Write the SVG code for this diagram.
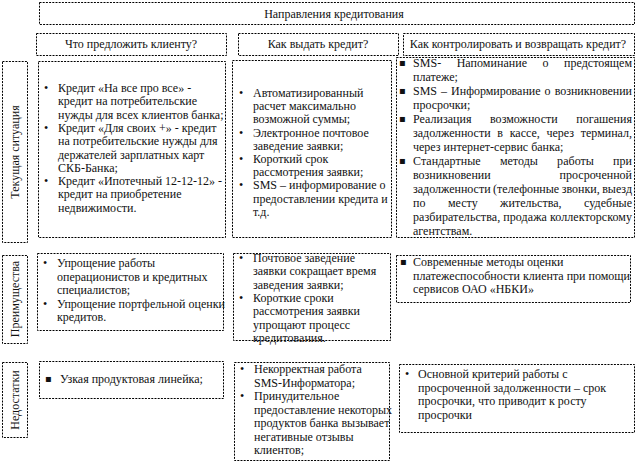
<svg xmlns="http://www.w3.org/2000/svg" width="638" height="470" viewBox="0 0 638 470">
<style>
.box{fill:#fff;stroke:#000;stroke-width:1;stroke-dasharray:2 1.2}
.t{font-family:"Liberation Serif","Times New Roman",serif;font-size:12px;fill:#111}
.m{text-anchor:middle}
.sq{font-family:"DejaVu Sans",sans-serif;font-size:10px;fill:#111}
</style>
<rect width="638" height="470" fill="#fff"/>
<g id="title">
<rect class="box" x="39.5" y="2.5" width="595" height="22"/>
<text class="t m" x="334" y="17.5">Направления кредитования</text>
</g>
<g id="head-offer">
<rect class="box" x="36.5" y="33.5" width="190" height="22"/>
<text class="t m" x="131" y="48">Что предложить клиенту?</text>
</g>
<g id="head-issue">
<rect class="box" x="238.5" y="33.5" width="160" height="22"/>
<text class="t m" x="318" y="48">Как выдать кредит?</text>
</g>
<g id="head-control">
<rect class="box" x="403.5" y="33.5" width="231" height="22"/>
<text class="t m" x="518" y="48">Как контролировать и возвращать кредит?</text>
</g>

<g id="label-current">
<rect class="box" x="2.5" y="61.5" width="25" height="181"/>
<text class="t m" transform="translate(15,152) rotate(-90)" x="0" y="4">Текущая ситуация</text>
</g>
<g id="label-advantages">
<rect class="box" x="2.5" y="255.5" width="25" height="88"/>
<text class="t m" transform="translate(15,299) rotate(-90)" x="0" y="4">Преимущества</text>
</g>
<g id="label-drawbacks">
<rect class="box" x="2.5" y="362.5" width="25" height="75"/>
<text class="t m" transform="translate(15,400) rotate(-90)" x="0" y="4">Недостатки</text>
</g>

<g id="current-offer">
<rect class="box" x="38.5" y="61.5" width="187" height="176"/>
<text class="t" x="44" y="92">•</text>
<text class="t" x="58" y="92">Кредит «На все про все» -</text>
<text class="t" x="58" y="105.3">кредит на потребительские</text>
<text class="t" x="58" y="118.6">нужды для всех клиентов банка;</text>
<text class="t" x="44" y="131.9">•</text>
<text class="t" x="58" y="131.9">Кредит «Для своих +» - кредит</text>
<text class="t" x="58" y="145.2">на потребительские нужды для</text>
<text class="t" x="58" y="158.5">держателей зарплатных карт</text>
<text class="t" x="58" y="171.8">СКБ-Банка;</text>
<text class="t" x="44" y="185.1">•</text>
<text class="t" x="58" y="185.1">Кредит «Ипотечный 12-12-12» -</text>
<text class="t" x="58" y="198.4">кредит на приобретение</text>
<text class="t" x="58" y="211.7">недвижимости.</text>
</g>

<g id="current-issue">
<rect class="box" x="232.5" y="60.5" width="159" height="177"/>
<text class="t" x="239" y="97">•</text>
<text class="t" x="253" y="97">Автоматизированный</text>
<text class="t" x="253" y="110.2">расчет максимально</text>
<text class="t" x="253" y="123.4">возможной суммы;</text>
<text class="t" x="239" y="136.6">•</text>
<text class="t" x="253" y="136.6">Электронное почтовое</text>
<text class="t" x="253" y="149.8">заведение заявки;</text>
<text class="t" x="239" y="163">•</text>
<text class="t" x="253" y="163">Короткий срок</text>
<text class="t" x="253" y="176.2">рассмотрения заявки;</text>
<text class="t" x="239" y="189.4">•</text>
<text class="t" x="253" y="189.4">SMS – информирование о</text>
<text class="t" x="253" y="202.6">предоставлении кредита и</text>
<text class="t" x="253" y="215.8">т.д.</text>
</g>

<g id="current-control">
<rect class="box" x="396.5" y="57.5" width="238" height="180"/>
<text class="sq" x="399" y="66">▪</text>
<text class="t" x="413" y="67" word-spacing="12.4" textLength="219" lengthAdjust="spacing">SMS- Напоминание о предстоящем</text>
<text class="t" x="413" y="81">платеже;</text>
<text class="sq" x="399" y="94">▪</text>
<text class="t" x="413" y="95" word-spacing="1.1" textLength="219" lengthAdjust="spacing">SMS – Информирование о возникновении</text>
<text class="t" x="413" y="109">просрочки;</text>
<text class="sq" x="399" y="122">▪</text>
<text class="t" x="413" y="123" word-spacing="15.5" textLength="219" lengthAdjust="spacing">Реализация возможности погашения</text>
<text class="t" x="413" y="137" word-spacing="3.7" textLength="219" lengthAdjust="spacing">задолженности в кассе, через терминал,</text>
<text class="t" x="413" y="151">через интернет-сервис банка;</text>
<text class="sq" x="399" y="164">▪</text>
<text class="t" x="413" y="165" word-spacing="16.2" textLength="219" lengthAdjust="spacing">Стандартные методы работы при</text>
<text class="t" x="413" y="179" word-spacing="65.9" textLength="219" lengthAdjust="spacing">возникновении просроченной</text>
<text class="t" x="413" y="193" word-spacing="-0.5" textLength="219" lengthAdjust="spacing">задолженности (телефонные звонки, выезд</text>
<text class="t" x="413" y="207" word-spacing="19.4" textLength="219" lengthAdjust="spacing">по месту жительства, судебные</text>
<text class="t" x="413" y="221" textLength="219" lengthAdjust="spacing">разбирательства, продажа коллекторскому</text>
<text class="t" x="413" y="235">агентствам.</text>
</g>

<g id="advantages-offer">
<rect class="box" x="37.5" y="253.5" width="186" height="77"/>
<text class="t" x="43" y="267">•</text>
<text class="t" x="57" y="267">Упрощение работы</text>
<text class="t" x="57" y="280.5">операционистов и кредитных</text>
<text class="t" x="57" y="294">специалистов;</text>
<text class="t" x="43" y="307.5">•</text>
<text class="t" x="57" y="307.5">Упрощение портфельной оценки</text>
<text class="t" x="57" y="321">кредитов.</text>
</g>

<g id="advantages-issue">
<rect class="box" x="233.5" y="253.5" width="157" height="87"/>
<text class="t" x="239" y="262">•</text>
<text class="t" x="253" y="262">Почтовое заведение</text>
<text class="t" x="253" y="275.3">заявки сокращает время</text>
<text class="t" x="253" y="288.6">заведения заявки;</text>
<text class="t" x="239" y="301.9">•</text>
<text class="t" x="253" y="301.9">Короткие сроки</text>
<text class="t" x="253" y="315.2">рассмотрения заявки</text>
<text class="t" x="253" y="328.5">упрощают процесс</text>
<text class="t" x="253" y="341.8">кредитования.</text>
</g>

<g id="advantages-control">
<rect class="box" x="396.5" y="255.5" width="234" height="47"/>
<text class="sq" x="400" y="265">▪</text>
<text class="t" x="413" y="266">Современные методы оценки</text>
<text class="t" x="413" y="279.5">платежеспособности клиента при помощи</text>
<text class="t" x="413" y="293">сервисов ОАО «НБКИ»</text>
</g>

<g id="drawbacks-offer">
<rect class="box" x="39.5" y="361.5" width="184" height="37"/>
<text class="sq" x="45" y="382">▪</text>
<text class="t" x="60" y="383">Узкая продуктовая линейка;</text>
</g>

<g id="drawbacks-issue">
<rect class="box" x="234.5" y="362.5" width="155" height="98"/>
<text class="t" x="240" y="373">•</text>
<text class="t" x="254" y="373">Некорректная работа</text>
<text class="t" x="254" y="386.5">SMS-Информатора;</text>
<text class="t" x="240" y="400">•</text>
<text class="t" x="254" y="400">Принудительное</text>
<text class="t" x="254" y="413.5">предоставление некоторых</text>
<text class="t" x="254" y="427">продуктов банка вызывает</text>
<text class="t" x="254" y="440.5">негативные отзывы</text>
<text class="t" x="254" y="454">клиентов;</text>
</g>

<g id="drawbacks-control">
<rect class="box" x="399.5" y="364.5" width="235" height="68"/>
<text class="t" x="405" y="378">•</text>
<text class="t" x="418" y="378">Основной критерий работы с</text>
<text class="t" x="418" y="391.5">просроченной задолженности – срок</text>
<text class="t" x="418" y="405">просрочки, что приводит к росту</text>
<text class="t" x="418" y="418.5">просрочки</text>
</g>

<g id="connectors"></g>
</svg>
